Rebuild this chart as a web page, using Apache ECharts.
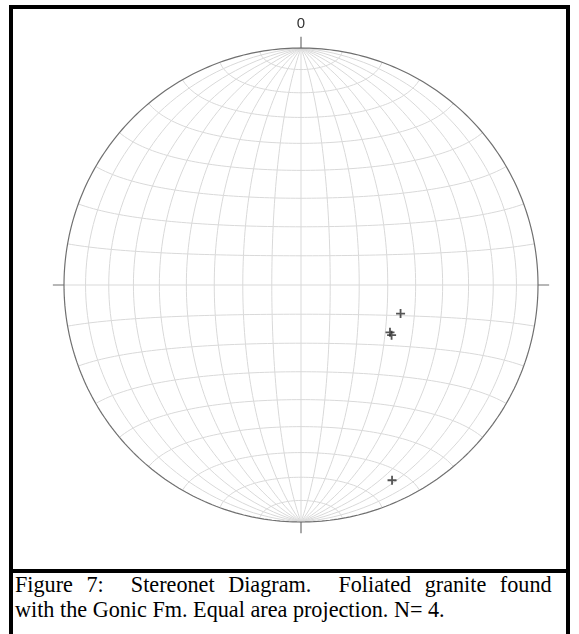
<!DOCTYPE html>
<html>
<head>
<meta charset="utf-8">
<script src="https://cdn.jsdelivr.net/npm/echarts@6/dist/echarts.min.js"></script>
<style>
  html, body { margin: 0; padding: 0; background: #fff; }
  body { width: 579px; height: 634px; position: relative; overflow: hidden; }
  #frame {
    position: absolute; left: 9px; top: 5px; width: 553px; height: 700px;
    border: 4px solid #000;
  }
  #main { position: absolute; left: 0; top: 0; width: 579px; height: 568px; }
  #sep { position: absolute; left: 9px; top: 569px; width: 561px; height: 4px; background: #000; }
  .cap {
    position: absolute; left: 15px;
    font-family: "Liberation Serif", "Times New Roman", serif;
    font-size: 22.2px; line-height: 25px; color: #000; white-space: pre;
  }
  #cap1 { top: 572px; word-spacing: 8px; }
  #cap2 { top: 597px; }
</style>
</head>
<body>
<div id="frame"></div>
<div id="main"></div>
<div id="sep"></div>
<div class="cap" id="cap1">Figure 7:  Stereonet Diagram.  Foliated granite found</div>
<div class="cap" id="cap2">with the Gonic Fm. Equal area projection. N= 4.</div>

<script>
// measured poles (trend / plunge, degrees), lower hemisphere
const trends = [106, 118, 119, 155]
const plunges = [54, 55, 54, 10]
const northLabel = '0'
const netStep = 10 // degrees between net lines

// equal area (Schmidt) projection of a unit vector (east, north, down)
function project (e, n, d) {
  const k = 1 / Math.sqrt(1 + d)
  return [e * k, n * k]
}

function projectLine (trend, plunge) {
  const t = trend * Math.PI / 180
  const p = plunge * Math.PI / 180
  return project(Math.cos(p) * Math.sin(t), Math.cos(p) * Math.cos(t), Math.sin(p))
}

// great circles striking N-S
function greatCircle (dip, side) {
  const a = dip * Math.PI / 180
  const pts = []
  for (let i = 0; i <= 90; i++) {
    const t = Math.PI * i / 90
    pts.push(project(Math.sin(t) * Math.cos(a) * side, Math.cos(t), Math.sin(t) * Math.sin(a)))
  }
  return pts
}

// small circles about the N-S axis
function smallCircle (ang) {
  const a = ang * Math.PI / 180
  const pts = []
  for (let i = 0; i <= 90; i++) {
    const f = Math.PI * i / 90
    pts.push(project(Math.sin(a) * Math.cos(f), Math.cos(a), Math.sin(a) * Math.sin(f)))
  }
  return pts
}

const gridStyle = { color: '#d9d9d9', width: 1 }
const series = []

function addLine (data, style) {
  series.push({
    type: 'line', data: data, showSymbol: false, silent: true,
    lineStyle: style, animation: false, z: 1
  })
}

for (let d = netStep; d < 90; d += netStep) {
  addLine(greatCircle(d, 1), gridStyle)
  addLine(greatCircle(d, -1), gridStyle)
}
addLine([[0, -1], [0, 1]], gridStyle)
for (let a = netStep; a < 180; a += netStep) {
  if (a === 90) addLine([[-1, 0], [1, 0]], gridStyle)
  else addLine(smallCircle(a), gridStyle)
}

// primitive circle
const prim = []
for (let i = 0; i <= 360; i++) {
  const f = Math.PI * i / 180
  prim.push([Math.cos(f), Math.sin(f)])
}
addLine(prim, { color: '#707070', width: 1.2 })

// N E S W ticks
const tk = 0.047
const tickStyle = { color: '#707070', width: 1.2 }
addLine([[0, 1], [0, 1 + tk]], tickStyle)
addLine([[0, -1], [0, -1 - tk]], tickStyle)
addLine([[1, 0], [1 + tk, 0]], tickStyle)
addLine([[-1, 0], [-1 - tk, 0]], tickStyle)

// data poles
const poles = trends.map((t, i) => projectLine(t, plunges[i]))
series.push({
  type: 'scatter',
  data: poles,
  symbol: 'path://M4,0h2v4h4v2h-4v4h-2v-4h-4v-2h4z',
  symbolSize: 9,
  itemStyle: { color: '#2a2a2a' },
  z: 5,
  animation: false
})

const myChart = echarts.init(document.getElementById('main'))

const option = {
  animation: false,
  grid: { left: 40.3, top: 24.3, width: 521.4, height: 521.4 },
  xAxis: { type: 'value', min: -1.1, max: 1.1, show: false },
  yAxis: { type: 'value', min: -1.1, max: 1.1, show: false },
  graphic: [{
    type: 'text', x: 301, y: 24,
    style: {
      text: northLabel, fill: '#333', font: '15px "Liberation Sans", Arial, sans-serif',
      align: 'center', verticalAlign: 'middle'
    }
  }],
  series: series
}
myChart.setOption(option)
</script>
</body>
</html>
